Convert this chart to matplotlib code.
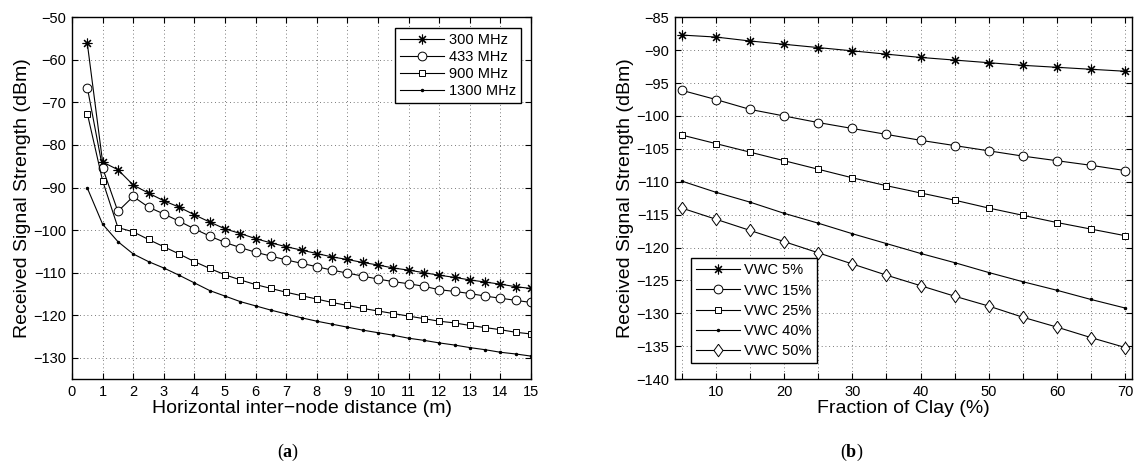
import numpy as np
import matplotlib
matplotlib.use('Agg')
import matplotlib.pyplot as plt

plt.rcParams['font.family'] = ['Liberation Sans', 'DejaVu Sans']
plt.rcParams['mathtext.fontset'] = 'custom'
plt.rcParams['mathtext.bf'] = 'Liberation Serif:bold'
plt.rcParams['mathtext.rm'] = 'Liberation Serif'

# (a) received signal vs distance
distance = np.arange(0.5, 15.01, 0.5)
rss_300 = [-56.1, -84.0, -85.8, -89.4, -91.3, -93.1, -94.6, -96.4, -98.1, -99.7,
           -100.8, -102.0, -103.0, -103.9, -104.7, -105.5, -106.3, -106.9, -107.6, -108.2,
           -108.9, -109.4, -110.0, -110.6, -111.1, -111.7, -112.2, -112.7, -113.3, -113.7]
rss_433 = [-66.5, -85.4, -95.6, -92.1, -94.6, -96.2, -97.9, -99.7, -101.4, -102.9,
           -104.1, -105.2, -106.1, -107.0, -107.8, -108.6, -109.4, -110.1, -110.8, -111.5,
           -112.1, -112.6, -113.2, -114.0, -114.4, -114.9, -115.5, -116.0, -116.5, -117.0]
rss_900 = [-72.6, -88.4, -99.4, -100.4, -102.2, -103.9, -105.6, -107.4, -109.0, -110.5,
           -111.7, -112.8, -113.7, -114.6, -115.4, -116.2, -117.0, -117.7, -118.4, -119.0,
           -119.6, -120.2, -120.8, -121.4, -121.8, -122.4, -122.9, -123.4, -124.0, -124.4]
rss_1300 = [-90.1, -98.6, -102.7, -105.6, -107.4, -108.9, -110.6, -112.4, -114.2, -115.5,
            -116.8, -117.8, -118.8, -119.7, -120.6, -121.4, -122.1, -122.8, -123.5, -124.1,
            -124.7, -125.4, -125.9, -126.5, -127.0, -127.6, -128.1, -128.7, -129.1, -129.6]
freq_labels = ['300 MHz', '433 MHz', '900 MHz', '1300 MHz']

# (b) received signal vs clay fraction
clay = np.arange(5, 71, 5)
vwc_5 = [-87.7, -88.0, -88.6, -89.1, -89.6, -90.1, -90.6, -91.1, -91.5, -91.9, -92.3, -92.6, -92.9, -93.2]
vwc_15 = [-96.1, -97.5, -99.0, -100.0, -101.0, -101.9, -102.8, -103.7, -104.5, -105.3, -106.1, -106.8, -107.5, -108.3]
vwc_25 = [-102.9, -104.2, -105.5, -106.8, -108.1, -109.4, -110.6, -111.7, -112.8, -114.0, -115.1, -116.2, -117.2, -118.2]
vwc_40 = [-109.9, -111.6, -113.1, -114.8, -116.3, -117.9, -119.4, -120.9, -122.3, -123.8, -125.2, -126.5, -127.9, -129.2]
vwc_50 = [-114.0, -115.7, -117.4, -119.1, -120.8, -122.5, -124.2, -125.8, -127.4, -128.9, -130.6, -132.1, -133.7, -135.2]
vwc_labels = ['VWC 5%', 'VWC 15%', 'VWC 25%', 'VWC 40%', 'VWC 50%']

asterisk = (8, 2, 0)
diamond = [(0, 1), (0.72, 0), (0, -1), (-0.72, 0), (0, 1)]
styles = [
    dict(marker=asterisk, ms=7, mew=0.8),
    dict(marker='o', ms=6.3, mfc='white', mew=0.7),
    dict(marker='s', ms=4.8, mfc='white', mew=0.7),
    dict(marker='.', ms=3),
    dict(marker=diamond, ms=9, mfc='white', mew=0.7),
]


def style_axes(ax):
    ax.tick_params(direction='in', top=True, right=True, length=4, width=0.8,
                   labelsize=10.5, pad=4)
    ax.grid(True, color='0.3', linestyle=(0, (1, 3.5)), linewidth=0.6)
    for s in ax.spines.values():
        s.set_linewidth(1.0)


def add_legend(ax, loc, spacing, pad):
    leg = ax.legend(loc=loc, fontsize=10.5, handlelength=3.0,
                    fancybox=False, edgecolor='black', framealpha=1,
                    borderaxespad=pad, labelspacing=spacing, borderpad=0.35,
                    handletextpad=0.3)
    leg.get_frame().set_linewidth(1.0)
    return leg


fig = plt.figure(figsize=(11.34, 4.68), dpi=100)
ax1 = fig.add_axes([72 / 1134, 0.190, (531 - 72) / 1134, 0.773])
ax2 = fig.add_axes([675 / 1134, 0.190, (1132 - 675) / 1134, 0.773])

for y, lab, st in zip([rss_300, rss_433, rss_900, rss_1300], freq_labels, styles[:4]):
    ax1.plot(distance, y, color='black', lw=0.8, mec='black', label=lab, **st)
ax1.set_xlim(0, 15)
ax1.set_ylim(-135, -50)
ax1.set_xticks(np.arange(0, 16, 1))
ax1.set_yticks(np.arange(-130, -49, 10))
ax1.set_xlabel('Horizontal inter\u2212node distance (m)', fontsize=14, labelpad=1)
ax1.set_ylabel('Received Signal Strength (dBm)', fontsize=14, labelpad=2)
style_axes(ax1)
add_legend(ax1, 'upper right', 0.22, 0.7)

for y, lab, st in zip([vwc_5, vwc_15, vwc_25, vwc_40, vwc_50], vwc_labels, styles):
    ax2.plot(clay, y, color='black', lw=0.8, mec='black', label=lab, **st)
ax2.set_xlim(4, 71)
ax2.set_ylim(-140, -85)
ax2.set_xticks(clay)
ax2.set_xticklabels([str(v) if v % 10 == 0 else '' for v in clay])
ax2.set_yticks(np.arange(-140, -84, 5))
ax2.set_xlabel('Fraction of Clay (%)', fontsize=14, labelpad=1)
ax2.set_ylabel('Received Signal Strength (dBm)', fontsize=14, labelpad=2)
style_axes(ax2)
add_legend(ax2, 'lower left', 0.42, 1.1)

fig.text(288 / 1134, 1 - 452 / 468, r'($\mathbf{a}$)', ha='center', va='center',
         fontsize=13, family='Liberation Serif')
fig.text(852 / 1134, 1 - 452 / 468, r'($\mathbf{b}$)', ha='center', va='center',
         fontsize=13, family='Liberation Serif')

fig.savefig('out.png', dpi=100)
